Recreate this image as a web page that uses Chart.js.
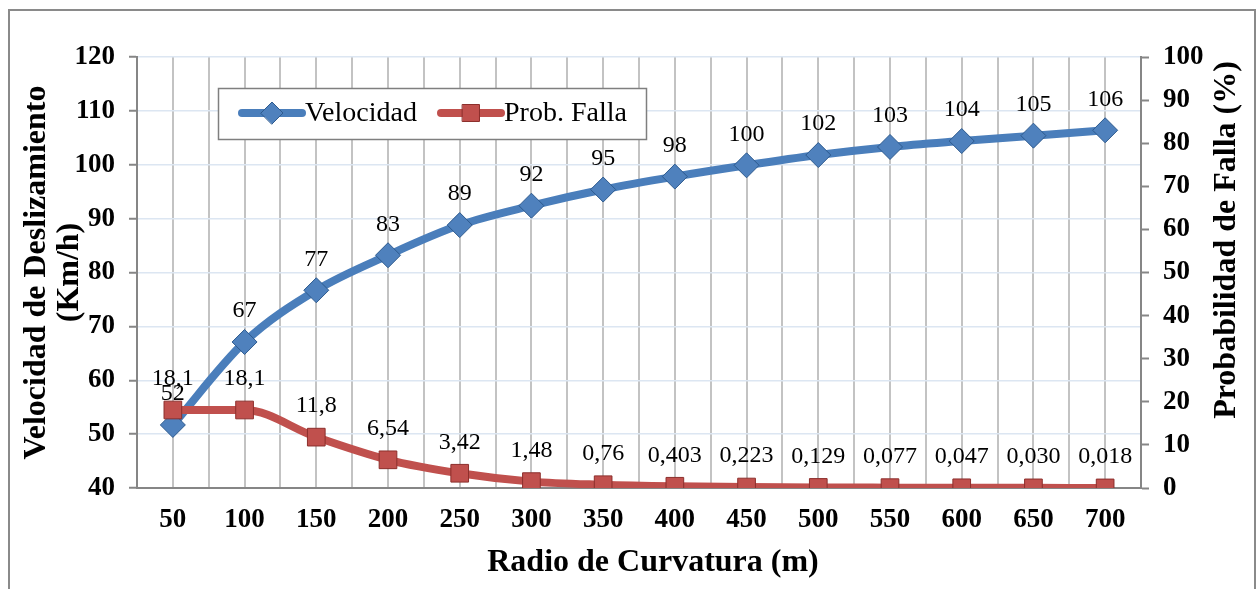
<!DOCTYPE html>
<html lang="es">
<head>
<meta charset="utf-8">
<title>Velocidad de Deslizamiento vs Radio de Curvatura</title>
<script src="https://cdn.jsdelivr.net/npm/chart.js@4/dist/chart.umd.min.js"></script>
<style>
    html, body { margin: 0; padding: 0; background: #fff; }
    #wrap { position: relative; width: 1258px; height: 589px; }
</style>
</head>
<body>
<div id="wrap"><canvas id="grafico"></canvas></div>
<script>
// ── Datos ──────────────────────────────────────────────────────────────────

const radios = [50, 100, 150, 200, 250, 300, 350, 400, 450, 500, 550, 600, 650, 700];
const velocidad = [51.7, 67.1, 76.7, 83.2, 88.8, 92.4, 95.4, 97.8, 99.9, 101.8, 103.3, 104.4, 105.4, 106.4];
const probFalla = [18.1, 18.1, 11.8, 6.54, 3.42, 1.48, 0.76, 0.403, 0.223, 0.129, 0.077, 0.047, 0.030, 0.018];
const probEtiquetas = ['18,1', '18,1', '11,8', '6,54', '3,42', '1,48', '0,76', '0,403', '0,223', '0,129', '0,077', '0,047', '0,030', '0,018'];

const SERIE_VEL = 'Velocidad';
const SERIE_PROB = 'Prob. Falla';
const TITULO_X = 'Radio de Curvatura (m)';
const TITULO_Y = ['Velocidad de Deslizamiento', '(Km/h)'];
const TITULO_Y1 = 'Probabilidad de Falla (%)';

// ── Estilos ────────────────────────────────────────────────────────────────

const FUENTE = "'Liberation Serif', 'Times New Roman', serif";
const AZUL = '#4a7ebb';
const AZUL_BORDE = '#2d5a8e';
const ROJO = '#c0504d';
const ROJO_BORDE = '#8c2f2c';
const GRIS_EJE = '#868686';

Chart.defaults.font.family = FUENTE;
Chart.defaults.color = '#000';

// Marco exterior del gráfico
const marco = {
    id: 'marco',
    beforeDraw(chart) {
        const ctx = chart.ctx;
        ctx.save();
        ctx.strokeStyle = '#8a8a8a';
        ctx.lineWidth = 2;
        ctx.strokeRect(9, 10, 1246, 600);
        ctx.restore();
    },
};

// Etiquetas de datos encima de cada punto
const etiquetas = {
    id: 'etiquetas',
    afterDatasetsDraw(chart) {
        const ctx = chart.ctx;
        ctx.save();
        ctx.font = `24px ${FUENTE}`;
        ctx.fillStyle = '#000';
        ctx.textAlign = 'center';
        ctx.textBaseline = 'middle';
        chart.data.datasets.forEach((ds, i) => {
            const meta = chart.getDatasetMeta(i);
            meta.data.forEach((pt, j) => {
                ctx.fillText(ds.etiquetas[j], pt.x, pt.y - 31);
            });
        });
        ctx.restore();
    },
};

// Títulos del eje x y del eje derecho (girado como en Excel), leyenda dentro del área
const extras = {
    id: 'extras',
    afterDraw(chart) {
        const ctx = chart.ctx;
        ctx.save();

        ctx.font = `bold 32px ${FUENTE}`;
        ctx.fillStyle = '#000';
        ctx.textAlign = 'center';
        ctx.textBaseline = 'middle';
        ctx.fillText(TITULO_X, 653, 563);

        ctx.translate(1227, 240);
        ctx.rotate(-Math.PI / 2);
        ctx.fillText(TITULO_Y1, 0, 0);
        ctx.setTransform(1, 0, 0, 1, 0, 0);

        // leyenda
        ctx.fillStyle = '#fff';
        ctx.fillRect(218, 88, 428, 51);
        ctx.strokeStyle = '#7f7f7f';
        ctx.lineWidth = 1.5;
        ctx.strokeRect(218.5, 88.5, 428, 51);

        const items = [
            { x: 242, color: AZUL, fill: '#4f81bd', borde: AZUL_BORDE, estilo: 'rectRot', r: 11, texto: SERIE_VEL },
            { x: 441, color: ROJO, fill: ROJO, borde: ROJO_BORDE, estilo: 'rect', r: 12, texto: SERIE_PROB },
        ];
        const y = 113;
        items.forEach(it => {
            ctx.strokeStyle = it.color;
            ctx.lineWidth = 8;
            ctx.lineCap = 'round';
            ctx.beginPath();
            ctx.moveTo(it.x, y);
            ctx.lineTo(it.x + 60, y);
            ctx.stroke();
            ctx.fillStyle = it.fill;
            ctx.strokeStyle = it.borde;
            ctx.lineWidth = 1;
            Chart.helpers.drawPoint(ctx, { pointStyle: it.estilo, radius: it.r, rotation: 0, borderWidth: 1 }, it.x + 30, y);
            ctx.fillStyle = '#000';
            ctx.font = `28px ${FUENTE}`;
            ctx.textAlign = 'left';
            ctx.textBaseline = 'middle';
            ctx.fillText(it.texto, it.x + 63, y + 1);
        });
        ctx.restore();
    },
};

// ── Gráfico ────────────────────────────────────────────────────────────────

new Chart(document.getElementById('grafico'), {
    type: 'line',
    data: {
        labels: radios,
        datasets: [
            {
                label: SERIE_PROB,
                data: probFalla,
                etiquetas: probEtiquetas,
                yAxisID: 'y1',
                order: 0,
                borderColor: ROJO,
                borderWidth: 8,
                cubicInterpolationMode: 'monotone',
                pointStyle: 'rect',
                pointRadius: 12.5,
                pointBackgroundColor: ROJO,
                pointBorderColor: ROJO_BORDE,
                pointBorderWidth: 1,
            },
            {
                label: SERIE_VEL,
                data: velocidad,
                etiquetas: velocidad.map(v => String(Math.round(v))),
                yAxisID: 'y',
                order: 1,
                borderColor: AZUL,
                borderWidth: 8,
                cubicInterpolationMode: 'monotone',
                pointStyle: 'rectRot',
                pointRadius: 12.5,
                pointBackgroundColor: '#4f81bd',
                pointBorderColor: AZUL_BORDE,
                pointBorderWidth: 1,
            },
        ],
    },
    options: {
        responsive: true,
        maintainAspectRatio: false,
        animation: false,
        layout: { padding: { left: 20, right: 10, top: 57, bottom: 8 } },
        plugins: {
            legend: { display: false },
            tooltip: { enabled: false },
        },
        scales: {
            x: {
                type: 'category',
                position: 'bottom',
                offset: true,
                grid: { color: 'transparent', drawTicks: false },
                border: { display: true, color: GRIS_EJE, width: 2 },
                ticks: { font: { size: 27, weight: 'bold' }, padding: 16, maxRotation: 0 },
                afterFit(scale) { scale.height = 93; },
            },
            // eje auxiliar sólo para las líneas verticales de la cuadrícula
            x2: {
                type: 'linear',
                position: 'top',
                min: 25,
                max: 725,
                grid: { color: '#c3c3c3', lineWidth: 2, drawTicks: false },
                border: { display: false },
                ticks: { display: false, stepSize: 25 },
                afterFit(scale) { scale.height = 0; },
            },
            y: {
                position: 'left',
                min: 40,
                max: 120,
                grid: {
                    color: '#dce6f2',
                    lineWidth: 1.5,
                    tickLength: 8,
                    tickColor: c => (c.tick && c.tick.value % 10 === 0 ? GRIS_EJE : 'transparent'),
                    tickWidth: 2,
                },
                border: { display: true, color: GRIS_EJE, width: 2 },
                ticks: {
                    stepSize: 5,
                    padding: 14,
                    font: { size: 27, weight: 'bold' },
                    callback: v => (v % 10 === 0 ? v : ''),
                },
                title: {
                    display: true,
                    text: TITULO_Y,
                    font: { size: 32, weight: 'bold', lineHeight: 1.03 },
                    padding: { top: 0, bottom: 0 },
                },
                afterFit(scale) { scale.width = 117; },
            },
            y1: {
                position: 'right',
                min: 0,
                max: 100,
                grid: { drawOnChartArea: false, tickLength: 8, tickColor: GRIS_EJE, tickWidth: 2 },
                border: { display: true, color: GRIS_EJE, width: 2 },
                ticks: { stepSize: 10, padding: 14, font: { size: 27, weight: 'bold' } },
                afterFit(scale) { scale.width = 107; },
            },
        },
    },
    plugins: [marco, etiquetas, extras],
});
</script>
</body>
</html>
